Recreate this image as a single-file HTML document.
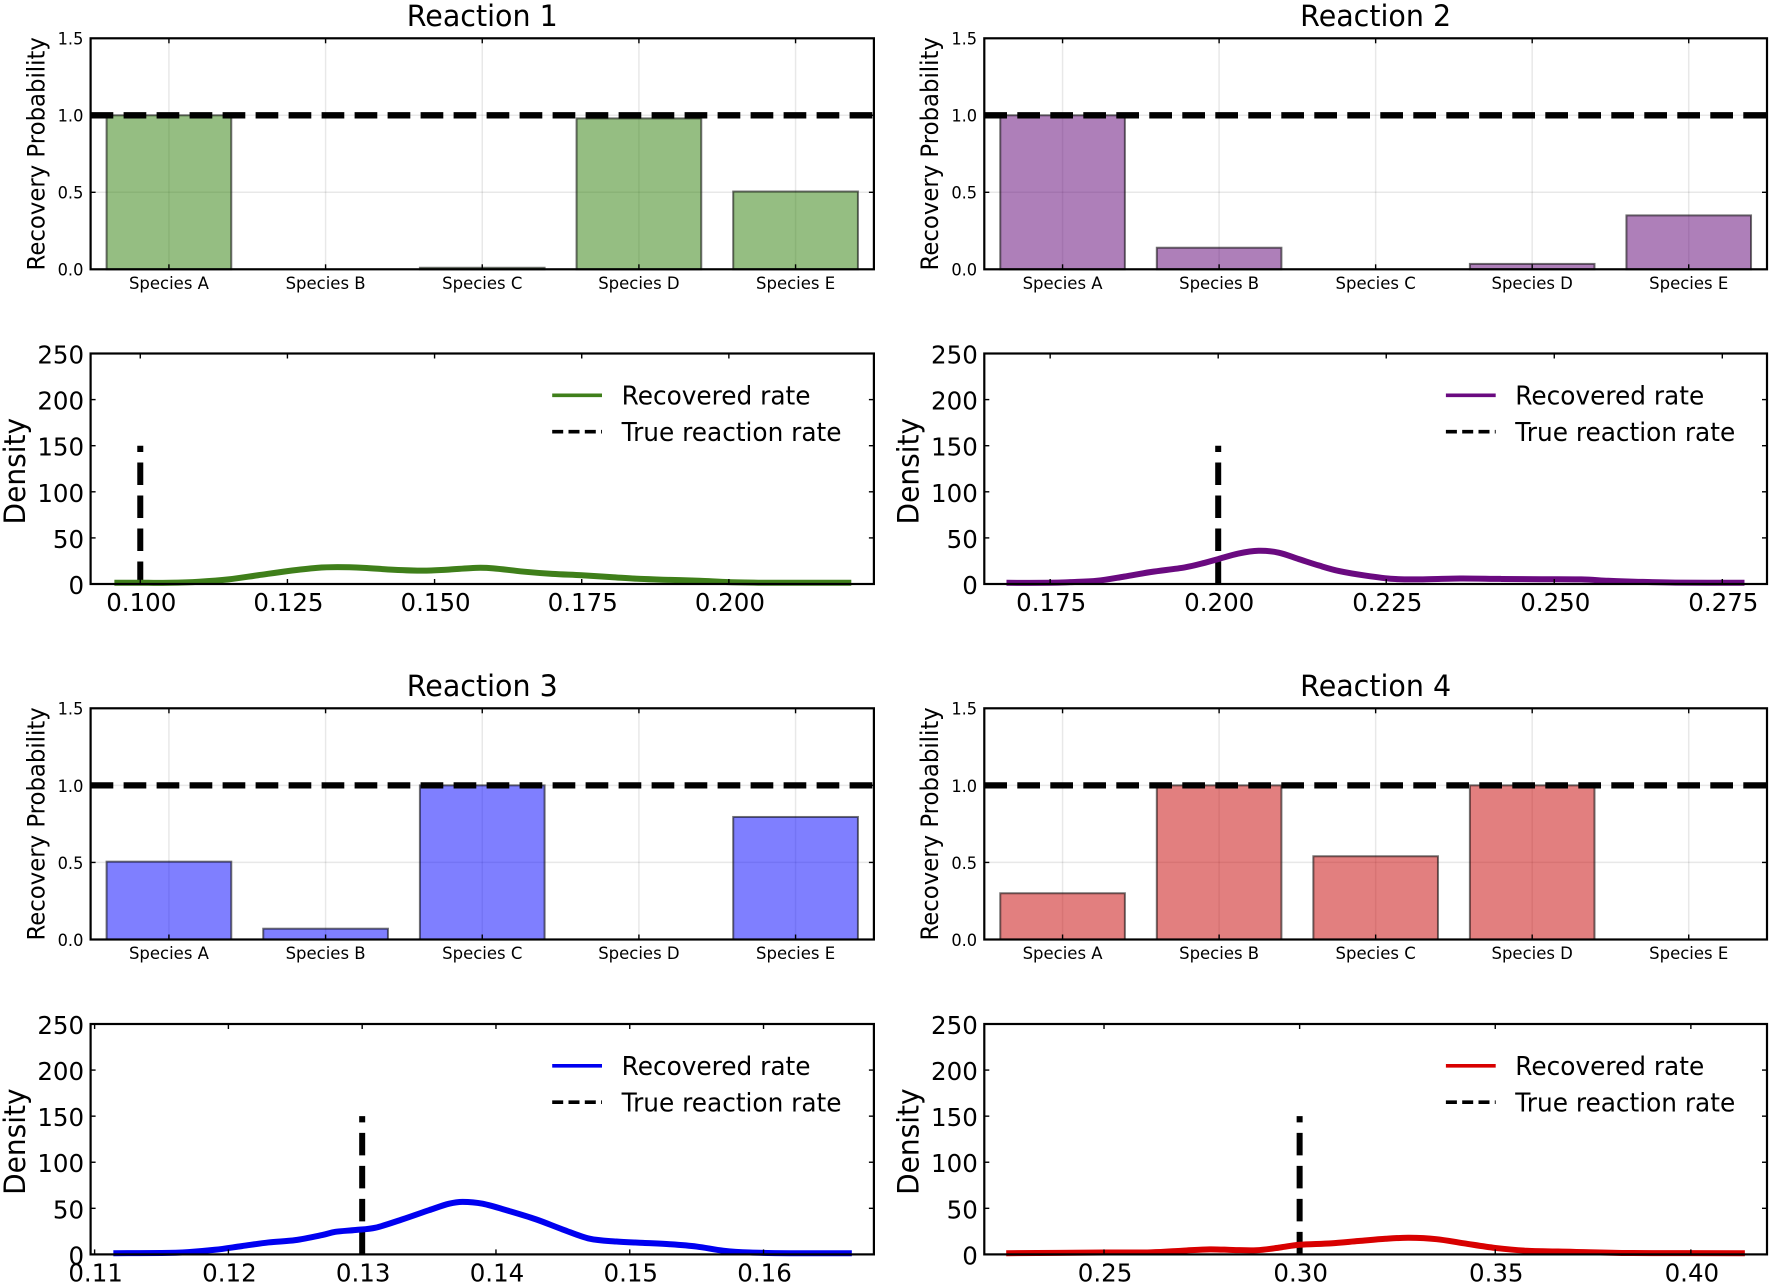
<!DOCTYPE html>
<html lang="en">
<head>
<meta charset="utf-8">
<title>Reaction recovery panels</title>
<style>
html,body{margin:0;padding:0;background:#fff;}
svg{display:block;}
text{font-family:"DejaVu Sans","Liberation Sans",sans-serif;fill:#000;}
</style>
</head>
<body>
<svg id="figure" xmlns="http://www.w3.org/2000/svg" width="1772" height="1284" viewBox="0 0 1772 1284"></svg>
<script>
const categories = ['Species A', 'Species B', 'Species C', 'Species D', 'Species E'];
const barYTicks = ['0.0', '0.5', '1.0', '1.5'];
const densityYTicks = ['0', '50', '100', '150', '200', '250'];
const barThreshold = 1.0;
const trueLineTop = 150;

const r1Recovery = [1.0, 0, 0.01, 0.98, 0.505];
const r2Recovery = [1.0, 0.14, 0, 0.035, 0.35];
const r3Recovery = [0.505, 0.07, 1.0, 0, 0.795];
const r4Recovery = [0.3, 1.0, 0.54, 1.0, 0];

const r1TrueRate = 0.100;
const r2TrueRate = 0.200;
const r3TrueRate = 0.130;
const r4TrueRate = 0.300;

const r1XDomain = [0.09156, 0.22464];
const r2XDomain = [0.1652, 0.28165];
const r3XDomain = [0.1097, 0.16825];
const r4XDomain = [0.2194, 0.41946];

const r1XTicks = ['0.100', '0.125', '0.150', '0.175', '0.200'];
const r2XTicks = ['0.175', '0.200', '0.225', '0.250', '0.275'];
const r3XTicks = ['0.11', '0.12', '0.13', '0.14', '0.15', '0.16'];
const r4XTicks = ['0.25', '0.30', '0.35', '0.40'];

const r1Rates = [0.0956, 0.100, 0.105, 0.110, 0.115, 0.120, 0.125, 0.130, 0.1335, 0.138, 0.143, 0.148, 0.152, 0.157, 0.160, 0.165, 0.170, 0.175, 0.180, 0.185, 0.190, 0.195, 0.200, 0.205, 0.210, 0.2208];
const r1Density = [1.3, 1.3, 1.4, 2.5, 5, 9.5, 14, 17.5, 18.3, 17.5, 15.5, 14.5, 15.5, 17.5, 17, 13.5, 11, 9.5, 7.5, 5.5, 4.5, 3.5, 2, 1.4, 1.3, 1.3];

const r2Rates = [0.1685, 0.175, 0.178, 0.182, 0.186, 0.190, 0.195, 0.198, 0.200, 0.203, 0.206, 0.209, 0.212, 0.215, 0.218, 0.222, 0.226, 0.230, 0.236, 0.242, 0.248, 0.254, 0.258, 0.262, 0.268, 0.2783];
const r2Density = [1.3, 1.3, 2, 3.5, 8, 13, 18, 23, 27, 33, 36, 34, 27, 20, 14, 9, 5.5, 5, 6, 5.5, 5.2, 5, 3.5, 2.5, 1.5, 1.3];

const r3Rates = [0.1114, 0.115, 0.117, 0.119, 0.121, 0.123, 0.125, 0.127, 0.128, 0.1295, 0.131, 0.133, 0.135, 0.1365, 0.1375, 0.139, 0.141, 0.143, 0.145, 0.147, 0.149, 0.151, 0.153, 0.155, 0.157, 0.159, 0.162, 0.1666];
const r3Density = [1.3, 1.5, 2.5, 5, 9, 13, 15.5, 21, 24.5, 26.5, 29, 38, 48, 55, 57, 55, 47, 38, 27, 17, 14, 12.5, 11, 8.5, 4, 2, 1.3, 1.3];

const r4Rates = [0.225, 0.25, 0.262, 0.270, 0.277, 0.283, 0.289, 0.295, 0.300, 0.308, 0.315, 0.322, 0.328, 0.335, 0.342, 0.350, 0.358, 0.370, 0.385, 0.4138];
const r4Density = [1.3, 2, 2.2, 4, 5.5, 4.8, 4.5, 7.5, 10.5, 12, 14.5, 17, 18, 16.5, 12, 7, 4, 2.8, 1.5, 1.3];

const NS = 'http://www.w3.org/2000/svg';
const figure = document.getElementById('figure');
const STRETCH = 1.03, ALONG = 0.95;
const FONT_TICK_SM = 16.2, FONT_SPECIES = 16.5, FONT_TICK_LG = 24.5, FONT_LEGEND = 24.8, FONT_LABEL_BAR = 24, FONT_LABEL_DEN = 29.5, FONT_TITLE = 28.5;

function make(parent, tag, attrs, content) {
  const node = document.createElementNS(NS, tag);
  for (const key in attrs) node.setAttribute(key, attrs[key]);
  if (content !== undefined) node.textContent = content;
  parent.appendChild(node);
  return node;
}
function textAt(x, y) {
  return 'translate(' + x + ' ' + y + ') scale(1 ' + STRETCH + ')';
}
function rotatedAt(x, y) {
  return 'translate(' + x + ' ' + y + ') rotate(-90) scale(' + ALONG + ' 1)';
}
function linear(domain, range) {
  return v => range[0] + (v - domain[0]) * (range[1] - range[0]) / (domain[1] - domain[0]);
}
function smoothPath(xs, ys) {
  let d = 'M' + xs[0].toFixed(2) + ' ' + ys[0].toFixed(2);
  for (let i = 0; i < xs.length - 1; i++) {
    const p0 = Math.max(i - 1, 0), p3 = Math.min(i + 2, xs.length - 1);
    const c1x = xs[i] + (xs[i + 1] - xs[p0]) / 6, c1y = ys[i] + (ys[i + 1] - ys[p0]) / 6;
    const c2x = xs[i + 1] - (xs[p3] - xs[i]) / 6, c2y = ys[i + 1] - (ys[p3] - ys[i]) / 6;
    d += 'C' + [c1x, c1y, c2x, c2y, xs[i + 1], ys[i + 1]].map(n => n.toFixed(2)).join(' ');
  }
  return d;
}
function frameAndTicks(g, box, xPositions, yPositions, prefix) {
  const tickLen = 5;
  xPositions.forEach(px => {
    const b = make(g, 'line', {x1: px, x2: px, y1: box.bottom, y2: box.bottom - tickLen, stroke: '#000', 'stroke-width': 1.4});
    
    
    const t = make(g, 'line', {x1: px, x2: px, y1: box.top, y2: box.top + tickLen, stroke: '#000', 'stroke-width': 1.4});
    
    
  });
  yPositions.forEach(py => {
    const l = make(g, 'line', {x1: box.left, x2: box.left + tickLen, y1: py, y2: py, stroke: '#000', 'stroke-width': 1.4});
    
    
    const r = make(g, 'line', {x1: box.right, x2: box.right - tickLen, y1: py, y2: py, stroke: '#000', 'stroke-width': 1.4});
    
    
  });
  const frame = make(g, 'rect', {x: box.left, y: box.top, width: box.right - box.left, height: box.bottom - box.top, fill: 'none', stroke: '#000', 'stroke-width': 2.2});
  
  
}

function drawBarPanel(box, reaction, title, values, fill) {
  const prefix = 'reaction-' + reaction + '-bars';
  const g = make(figure, 'g', {});
  
  
  const x = linear([-0.5, categories.length - 0.5], [box.left, box.right]);
  const y = linear([0, 1.5], [box.bottom, box.top]);
  const centers = categories.map((c, i) => x(i));
  const tickY = barYTicks.map(t => y(parseFloat(t)));

  centers.forEach(px => {
    const gl = make(g, 'line', {x1: px, x2: px, y1: box.top, y2: box.bottom, stroke: 'rgba(0,0,0,0.09)', 'stroke-width': 1.5});
    
    
  });
  tickY.forEach(py => {
    const gl = make(g, 'line', {x1: box.left, x2: box.right, y1: py, y2: py, stroke: 'rgba(0,0,0,0.09)', 'stroke-width': 1.5});
    
    
  });

  const half = (x(0.398) - x(-0.398)) / 2;
  values.forEach((v, i) => {
    const rect = make(g, 'rect', {x: centers[i] - half, y: y(v), width: half * 2, height: y(0) - y(v), fill: fill, stroke: 'rgba(0,0,0,0.55)', 'stroke-width': 2});
    
    
  });

  const ref = make(g, 'line', {x1: box.left, x2: box.right, y1: y(barThreshold), y2: y(barThreshold), stroke: '#000', 'stroke-width': 6.3, 'stroke-dasharray': '22.7 10.3'});
  
  

  frameAndTicks(g, box, centers, tickY, prefix);

  categories.forEach((c, i) => {
    const t = make(g, 'text', {transform: textAt(centers[i], box.bottom + 19.7), 'font-size': FONT_SPECIES, 'text-anchor': 'middle'}, c);
    
    
  });
  barYTicks.forEach((label, i) => {
    const t = make(g, 'text', {transform: textAt(box.left - 7.2, tickY[i] + 6.4), 'font-size': FONT_TICK_SM, 'text-anchor': 'end'}, label);
    
    
  });

  const cy = (box.top + box.bottom) / 2;
  const yl = make(g, 'text', {transform: rotatedAt(box.left - 46.3, cy), 'font-size': FONT_LABEL_BAR, 'text-anchor': 'middle'}, 'Recovery Probability');
  
  

  const ti = make(g, 'text', {transform: textAt((box.left + box.right) / 2, box.top - 12.3), 'font-size': FONT_TITLE, 'text-anchor': 'middle'}, title);
  
  
}

function drawDensityPanel(box, reaction, xDomain, xTicks, rates, density, trueRate, color) {
  const prefix = 'reaction-' + reaction + '-density';
  const g = make(figure, 'g', {});
  
  
  const x = linear(xDomain, [box.left, box.right]);
  const y = linear([0, 250], [box.bottom, box.top]);
  const tickX = xTicks.map(t => x(parseFloat(t)));
  const tickY = densityYTicks.map(t => y(parseFloat(t)));

  const trueLine = make(g, 'line', {x1: x(trueRate), x2: x(trueRate), y1: y(0), y2: y(trueLineTop), stroke: '#000', 'stroke-width': 6, 'stroke-dasharray': '22.5 10.5'});
  
  

  const curve = make(g, 'path', {d: smoothPath(rates.map(x), density.map(y)), fill: 'none', stroke: color, 'stroke-width': 6, 'stroke-linejoin': 'round'});
  
  

  frameAndTicks(g, box, tickX, tickY, prefix);

  xTicks.forEach((label, i) => {
    const t = make(g, 'text', {transform: textAt(tickX[i] + 1, box.bottom + 26.9), 'font-size': FONT_TICK_LG, 'text-anchor': 'middle'}, label);
    
    
  });
  densityYTicks.forEach((label, i) => {
    const t = make(g, 'text', {transform: textAt(box.left - 6.5, tickY[i] + 10), 'font-size': FONT_TICK_LG, 'text-anchor': 'end'}, label);
    
    
  });

  const cy = (box.top + box.bottom) / 2 + 2.45;
  const yl = make(g, 'text', {transform: rotatedAt(box.left - 65.6, cy), 'font-size': FONT_LABEL_DEN, 'text-anchor': 'middle'}, 'Density');
  
  

  const legend = make(g, 'g', {});
  
  
  const ly1 = box.top + 41.8, ly2 = box.top + 78.2;
  const l1 = make(legend, 'line', {x1: box.left + 461.6, x2: box.left + 511.4, y1: ly1, y2: ly1, stroke: color, 'stroke-width': 3.6});
  
  
  const t1 = make(legend, 'text', {transform: textAt(box.left + 531, ly1 + 9.3), 'font-size': FONT_LEGEND}, 'Recovered rate');
  
  
  const l2 = make(legend, 'line', {x1: box.left + 461.6, x2: box.left + 511.4, y1: ly2, y2: ly2, stroke: '#000', 'stroke-width': 3.6, 'stroke-dasharray': '11 5.3'});
  
  
  const t2 = make(legend, 'text', {transform: textAt(box.left + 531, ly2 + 9.3), 'font-size': FONT_LEGEND}, 'True reaction rate');
  
  
}

const leftCol = {left: 90.6, right: 873.9};
const rightCol = {left: 984.3, right: 1767};
const row1Bar = {top: 38.3, bottom: 269.3}, row1Den = {top: 353.5, bottom: 584};
const row2Bar = {top: 708.3, bottom: 939.5}, row2Den = {top: 1024, bottom: 1254.4};

drawBarPanel({...leftCol, ...row1Bar}, 1, 'Reaction 1', r1Recovery, 'rgba(43,125,5,0.5)');
drawDensityPanel({...leftCol, ...row1Den}, 1, r1XDomain, r1XTicks, r1Rates, r1Density, r1TrueRate, '#3f7f1a');
drawBarPanel({...rightCol, ...row1Bar}, 2, 'Reaction 2', r2Recovery, 'rgba(93,0,115,0.5)');
drawDensityPanel({...rightCol, ...row1Den}, 2, r2XDomain, r2XTicks, r2Rates, r2Density, r2TrueRate, '#6a0a80');
drawBarPanel({...leftCol, ...row2Bar}, 3, 'Reaction 3', r3Recovery, 'rgba(0,0,255,0.5)');
drawDensityPanel({...leftCol, ...row2Den}, 3, r3XDomain, r3XTicks, r3Rates, r3Density, r3TrueRate, '#0000f0');
drawBarPanel({...rightCol, ...row2Bar}, 4, 'Reaction 4', r4Recovery, 'rgba(197,0,0,0.5)');
drawDensityPanel({...rightCol, ...row2Den}, 4, r4XDomain, r4XTicks, r4Rates, r4Density, r4TrueRate, '#d80000');
</script>
</body>
</html>
